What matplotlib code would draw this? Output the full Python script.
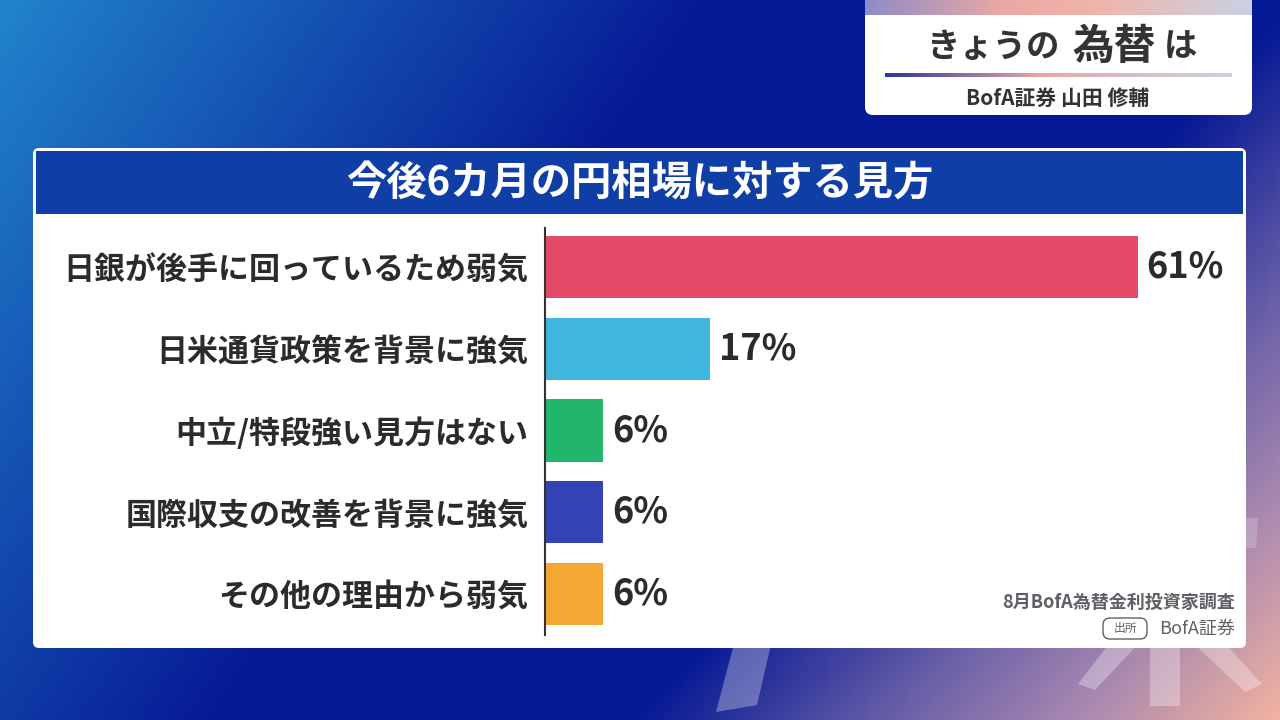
import numpy as np
import matplotlib.pyplot as plt
from matplotlib.patches import FancyBboxPatch, Rectangle, Polygon
from matplotlib.colors import to_rgb

plt.rcParams['font.family'] = ['Noto Sans CJK JP', 'DejaVu Sans']

# data
title = '今後6カ月の円相場に対する見方'
categories = ['日銀が後手に回っているため弱気',
              '日米通貨政策を背景に強気',
              '中立/特段強い見方はない',
              '国際収支の改善を背景に強気',
              'その他の理由から弱気']
values = [61, 17, 6, 6, 6]
colors = ['#e34a68', '#3fb6dd', '#22b56c', '#3342b5', '#f5a834']
value_labels = ['61%', '17%', '6%', '6%', '6%']

W, H = 1280, 720
fig = plt.figure(figsize=(W / 100, H / 100), dpi=100)

# background in pixel coords
bg = fig.add_axes([0, 0, 1, 1])
bg.set_xlim(0, W)
bg.set_ylim(H, 0)
bg.axis('off')


def ramp(stops, cols, t):
    cols = np.array([to_rgb(c) for c in cols])
    return np.stack([np.interp(t, stops, cols[:, k]) for k in range(3)], -1)


xx, yy = np.meshgrid(np.linspace(0, 1, 320), np.linspace(0, 1, 180))
warm = np.clip(1 + 2.0 * (xx - 1) + 1.03 * (yy - 1), 0, 1)
img = ramp([0, 0.4, 0.68, 1], ['#071a95', '#6a60a8', '#a888b0', '#f2b2a0'], warm)
wb = np.clip(1 - xx / 0.55 - 0.7 * yy, 0, 1)[..., None]
img = img * (1 - wb) + np.array(to_rgb('#2184cc')) * wb
bg.imshow(img, extent=[0, W, H, 0], aspect='auto', zorder=0)

# faint watermark strokes peeking out below the panel
wm = dict(closed=True, color='white', alpha=0.3, lw=0, zorder=1)
bg.add_patch(Polygon([[735, 640], [772, 640], [757, 705], [716, 712]], **wm))
bg.add_patch(Polygon([[1150, 640], [1180, 640], [1180, 706], [1150, 706]], **wm))
bg.add_patch(Polygon([[1112, 640], [1142, 640], [1095, 690], [1078, 684]], **wm))
bg.add_patch(Polygon([[1190, 640], [1222, 640], [1262, 684], [1245, 692]], **wm))
bg.add_patch(Polygon([[1246, 518], [1258, 518], [1256, 548], [1246, 548]],
                     closed=True, color='white', alpha=0.2, lw=0, zorder=1))

# main panel
bg.add_patch(FancyBboxPatch((33, 148), 1213, 500, boxstyle='round,pad=0,rounding_size=6',
                            fc='white', ec='none', zorder=2))
bg.add_patch(Rectangle((36, 151), 1207, 63, fc='#0f3fa6', ec='none', zorder=3))
bg.text(640, 184, title, color='white', fontsize=29, fontweight='bold',
        ha='center', va='center', zorder=4)

# top-right caption box
bg.add_patch(FancyBboxPatch((865, -10), 387, 125, boxstyle='round,pad=0,rounding_size=8',
                            fc='white', ec='none', zorder=2))
sx = np.linspace(0, 1, 200)
strip_img = ramp([0, 0.35, 0.6, 1], ['#8f8cc8', '#e9a9a4', '#f0b4ac', '#c9d2e4'], sx)
bg.imshow(strip_img[None, :, :], extent=[865, 1252, 15, 0], aspect='auto', zorder=3)
line_img = ramp([0, 0.45, 1], ['#2e3596', '#e7a7a8', '#c9d3e2'], sx)
bg.imshow(line_img[None, :, :], extent=[885, 1232, 77, 73], aspect='auto', zorder=3)
bg.text(1060, 47, 'きょうの', color='#333333', fontsize=24, fontweight='bold',
        ha='right', va='center', zorder=4)
bg.text(1072, 47, '為替', color='#333333', fontsize=30, fontweight='bold',
        ha='left', va='center', zorder=4)
bg.text(1164, 47, 'は', color='#333333', fontsize=24, fontweight='bold',
        ha='left', va='center', zorder=4)
bg.text(1058, 98, 'BofA証券 山田 修輔', color='#333333', fontsize=15, fontweight='bold',
        ha='center', va='center', zorder=4)

# source
bg.text(1235, 602, '8月BofA為替金利投資家調査', color='#5f6066', fontsize=13,
        fontweight='bold', ha='right', va='center', zorder=4)
bg.text(1235, 629, 'BofA証券', color='#5f6066', fontsize=13,
        ha='right', va='center', zorder=4)
bg.add_patch(FancyBboxPatch((1103, 618), 44, 21, boxstyle='round,pad=0,rounding_size=7',
                            fc='white', ec='#5f6066', lw=1, zorder=4))
bg.text(1125, 628.5, '出所', color='#5f6066', fontsize=8.5,
        ha='center', va='center', zorder=5)

# bar axes: axis line at x=545 px, 9.72 px per percent
x0, x1, y_top, y_bot = 545, 1245, 228, 635
ax = fig.add_axes([x0 / W, 1 - y_bot / H, (x1 - x0) / W, (y_bot - y_top) / H])
ax.patch.set_alpha(0)
ypos = np.arange(len(categories))
ax.barh(ypos, values, height=0.76, color=colors, zorder=2)
ax.set_xlim(0, (x1 - x0) / 9.72)
ax.set_ylim(4.5, -0.477)
for s in ['top', 'right', 'bottom']:
    ax.spines[s].set_visible(False)
ax.spines['left'].set_color('#333333')
ax.spines['left'].set_linewidth(1.5)
ax.set_xticks([])
ax.set_yticks(ypos)
ax.set_yticklabels(categories, fontsize=22.3, fontweight='bold', color='#2b2b2b')
ax.tick_params(axis='y', length=0, pad=12)
for y, v, lab in zip(ypos, values, value_labels):
    ax.text(v + 0.9, y, lab, fontsize=26, fontweight='bold', color='#2b2b2b',
            ha='left', va='center')

fig.savefig('out.png', dpi=100)
